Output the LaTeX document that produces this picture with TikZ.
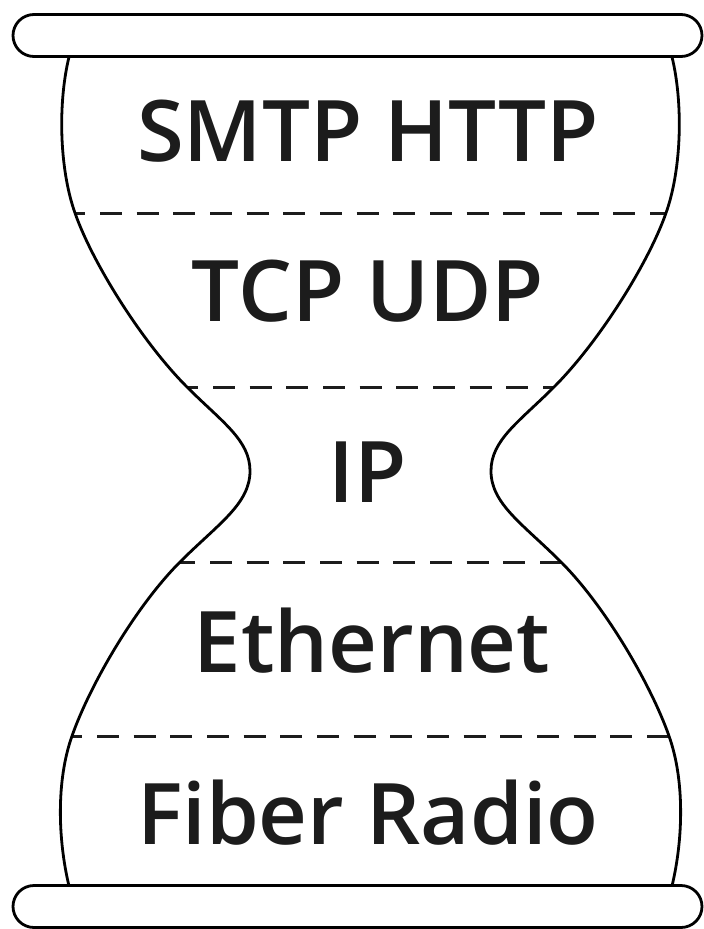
\documentclass[tikz,border=0pt]{standalone}
\usepackage{fontspec}
\setmainfont{Open Sans}
\newfontfamily\sbfont{Open Sans}[UprightFont={* Semibold}]
\definecolor{ink}{HTML}{1C1C1C}
\newcommand{\hgside}{(69,57) .. controls (58,102) and (59,168) .. (75,213)
    .. controls (92.5,263) and (142,342) .. (187,387)
    .. controls (222,422) and (250,440) .. (250,471)
    .. controls (250,504) and (218,524) .. (180,562)
    .. controls (135,607) and (89.5,686) .. (72,736)
    .. controls (56,781) and (58,840) .. (69,886)}
\begin{document}
\begin{tikzpicture}[x=1pt,y=-1pt,
  side/.style={line width=2.8pt, draw=black},
  sep/.style={line width=3pt, draw=ink, dash pattern=on 22pt off 14.67pt},
  bar/.style={draw=black, line width=2.8pt, fill=white, rounded corners=21pt, minimum width=689pt, minimum height=42pt, inner sep=0pt},
  lbl/.style={anchor=base, text=ink, font=\fontsize{85}{85}\selectfont\sbfont, inner sep=0pt}]
\useasboundingbox (0,0) rectangle (704,929);
% separator end points
\coordinate (a1) at (75,213);  \coordinate (b1) at (666,213);
\coordinate (a2) at (187,387); \coordinate (b2) at (554,387);
\coordinate (a3) at (180,562); \coordinate (b3) at (561,562);
\coordinate (a4) at (72,736);  \coordinate (b4) at (669,736);
\draw[sep, dash phase=11.67pt] (a1) -- (b1);
\draw[sep, dash phase=10.67pt] (a2) -- (b2);
\draw[sep, dash phase=6.67pt] (a3) -- (b3);
\draw[sep, dash phase=11.67pt] (a4) -- (b4);
% hourglass sides
\draw[side] \hgside;
\begin{scope}[shift={(741,0)},xscale=-1]
\draw[side] \hgside;
\end{scope}
% bars
\node[bar] (topbar) at (357.5,35.5) {};
\node[bar] (botbar) at (357.5,906.5) {};
% labels
\node[lbl] (app) at (368,161) {SMTP HTTP};
\node[lbl] (trans) at (368,321) {TCP UDP};
\node[lbl] (net) at (368,502) {IP};
\node[lbl] (link) at (372,672) {Ethernet};
\node[lbl] (phys) at (368,844) {Fiber Radio};
\end{tikzpicture}
\end{document}
